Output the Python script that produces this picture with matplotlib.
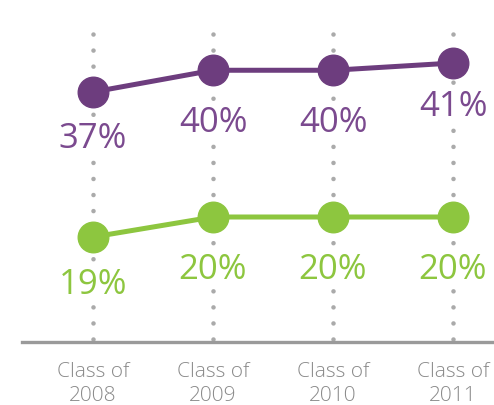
import matplotlib
matplotlib.use('Agg')
import matplotlib.pyplot as plt

plt.rcParams['font.family'] = ['Open Sans', 'DejaVu Sans']

years = ['2008', '2009', '2010', '2011']
labels = ['Class of\n' + y for y in years]
purple_vals = [37, 40, 40, 41]
green_vals = [19, 20, 20, 20]

# label baseline offsets below each point (points)
purple_dy = [39.6, 43.9, 43.9, 37.4]
green_dy = [40.3, 43.9, 43.9, 43.9]

PURPLE = '#6d3d7e'
PURPLE_TXT = '#7b4a8f'
GREEN = '#8dc63f'
GRAY = '#9a9a9a'

W, H = 494, 406
fig = plt.figure(figsize=(W / 100, H / 100), dpi=100)
# axes spans x 22..494 px, y 0..343 px from top
ax = fig.add_axes([22 / W, (H - 343) / H, (W - 22) / W, 343 / H])
ax2 = ax.twinx()

x = list(range(len(years)))
ax.set_xlim(-(93 - 22) / 120, 3 + (494 - 453) / 120)

# each series has its own vertical scale in the original graphic
ax.set_ylim(2.517, 49.83)
ax2.set_ylim(13.75, 30.9)

for xi in x:
    ax.axvline(xi, ymin=(343 - 340) / 343, ymax=(343 - 19) / 343, color='#aaaaaa',
               lw=3.3, linestyle=(0, (0.001, 3.501)), dash_capstyle='round', zorder=0)

ax.plot(x, purple_vals, color=PURPLE, lw=3.6, marker='o', ms=22, zorder=3)
ax2.plot(x, green_vals, color=GREEN, lw=3.6, marker='o', ms=22, zorder=3)

box = dict(fc='white', ec='none', pad=1)
for xi, v, dy in zip(x, purple_vals, purple_dy):
    ax.annotate(f'{v}%', (xi, v), xytext=(0, -dy), textcoords='offset points',
                ha='center', va='baseline', fontsize=25, color=PURPLE_TXT, bbox=box,
                zorder=2)
for xi, v, dy in zip(x, green_vals, green_dy):
    ax2.annotate(f'{v}%', (xi, v), xytext=(0, -dy), textcoords='offset points',
                 ha='center', va='baseline', fontsize=25, color=GREEN, bbox=box,
                 zorder=2)

ax.set_xticks(x)
ax.set_xticklabels(labels, fontsize=15, color='#8a8a8a', linespacing=1.26,
                   fontweight='light')
ax.tick_params(axis='x', length=0, pad=14)
ax.set_yticks([])
ax2.set_yticks([])
for a in (ax, ax2):
    for side in ('top', 'left', 'right'):
        a.spines[side].set_visible(False)
    a.patch.set_visible(False)
ax2.spines['bottom'].set_visible(False)
ax.spines['bottom'].set_color(GRAY)
ax.spines['bottom'].set_linewidth(2.4)

fig.savefig('out.png', dpi=100)
